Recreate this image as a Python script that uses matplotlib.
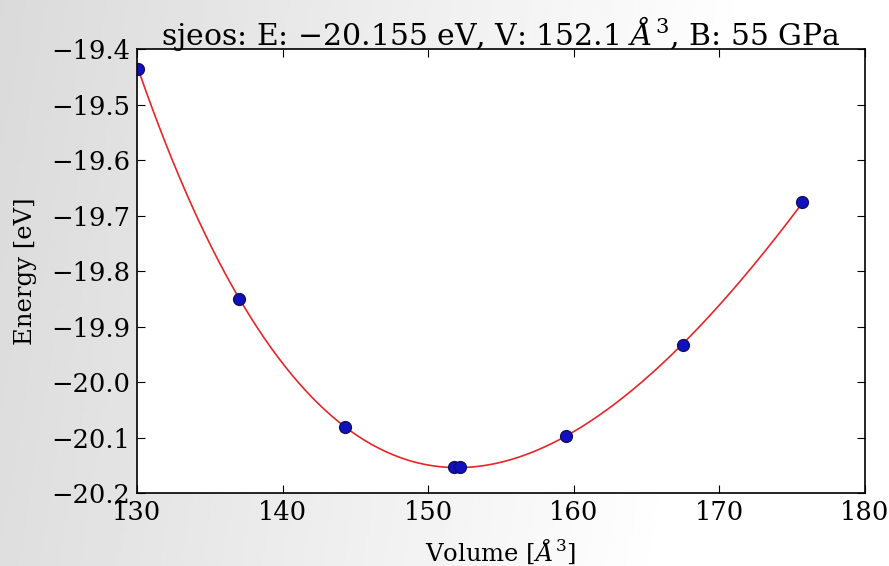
import numpy as np
import matplotlib
matplotlib.use("Agg")
import matplotlib.pyplot as plt

# Volume / energy data points
volumes = [130.1, 137.0, 144.3, 151.8, 152.2, 159.5, 167.5, 175.7]
energies = [-19.436, -19.850, -20.081, -20.153, -20.153, -20.097, -19.933, -19.676]

title_text = r"sjeos: E: $-$20.155 eV, V: 152.1 $\AA^3$, B: 55 GPa"
xlabel_text = r"Volume [$\AA^3$]"
ylabel_text = "Energy [eV]"
xticks = [130, 140, 150, 160, 170, 180]
yticks = [-20.2, -20.1, -20.0, -19.9, -19.8, -19.7, -19.6, -19.5, -19.4]

plt.rcParams["font.family"] = "DejaVu Serif"
plt.rcParams["mathtext.fontset"] = "dejavuserif"

fig = plt.figure(figsize=(8.89, 5.66), dpi=100)

# soft grey-to-white background
bg = fig.add_axes([0, 0, 1, 1], zorder=-10)
gx = np.linspace(0, 1, 256)
gy = np.linspace(0, 1, 256)
GX, GY = np.meshgrid(gx, gy)
shade = 0.855 + 0.145 * np.clip((GX + 0.1 * GY) / 0.85, 0, 1)
bg.imshow(shade, cmap="gray", vmin=0, vmax=1, aspect="auto", extent=[0, 1, 0, 1], origin="upper")
bg.axis("off")

ax = fig.add_axes([0.154, 0.129, 0.819, 0.784])

# SJEOS: cubic polynomial in V^(-1/3)
v = np.array(volumes)
e = np.array(energies)
coef = np.polyfit(v ** (-1 / 3), e, 3)
vfit = np.linspace(v.min(), v.max(), 300)
efit = np.polyval(coef, vfit ** (-1 / 3))

ax.plot(vfit, efit, "-", color="#e8262a", lw=1.2)
ax.plot(v, e, "o", color="#1010c0", mec="#101060", mew=1.0, ms=8.5)

ax.set_xlim(130, 180)
ax.set_ylim(-20.2, -19.4)
ax.set_xticks(xticks)
ax.set_yticks(yticks)
ax.set_yticklabels([f"{t:.1f}".replace("-", "\u2212") for t in yticks])
ax.tick_params(direction="in", top=True, right=True, length=6, width=0.8,
               labelsize=18.5, pad=5)
for s in ax.spines.values():
    s.set_linewidth(1.2)

ax.set_xlabel(xlabel_text, fontsize=17.5, labelpad=9)
ax.set_ylabel(ylabel_text, fontsize=17.5, labelpad=10)
ax.set_title(title_text, fontsize=21.5, pad=3)

fig.savefig("out.png", dpi=100)
